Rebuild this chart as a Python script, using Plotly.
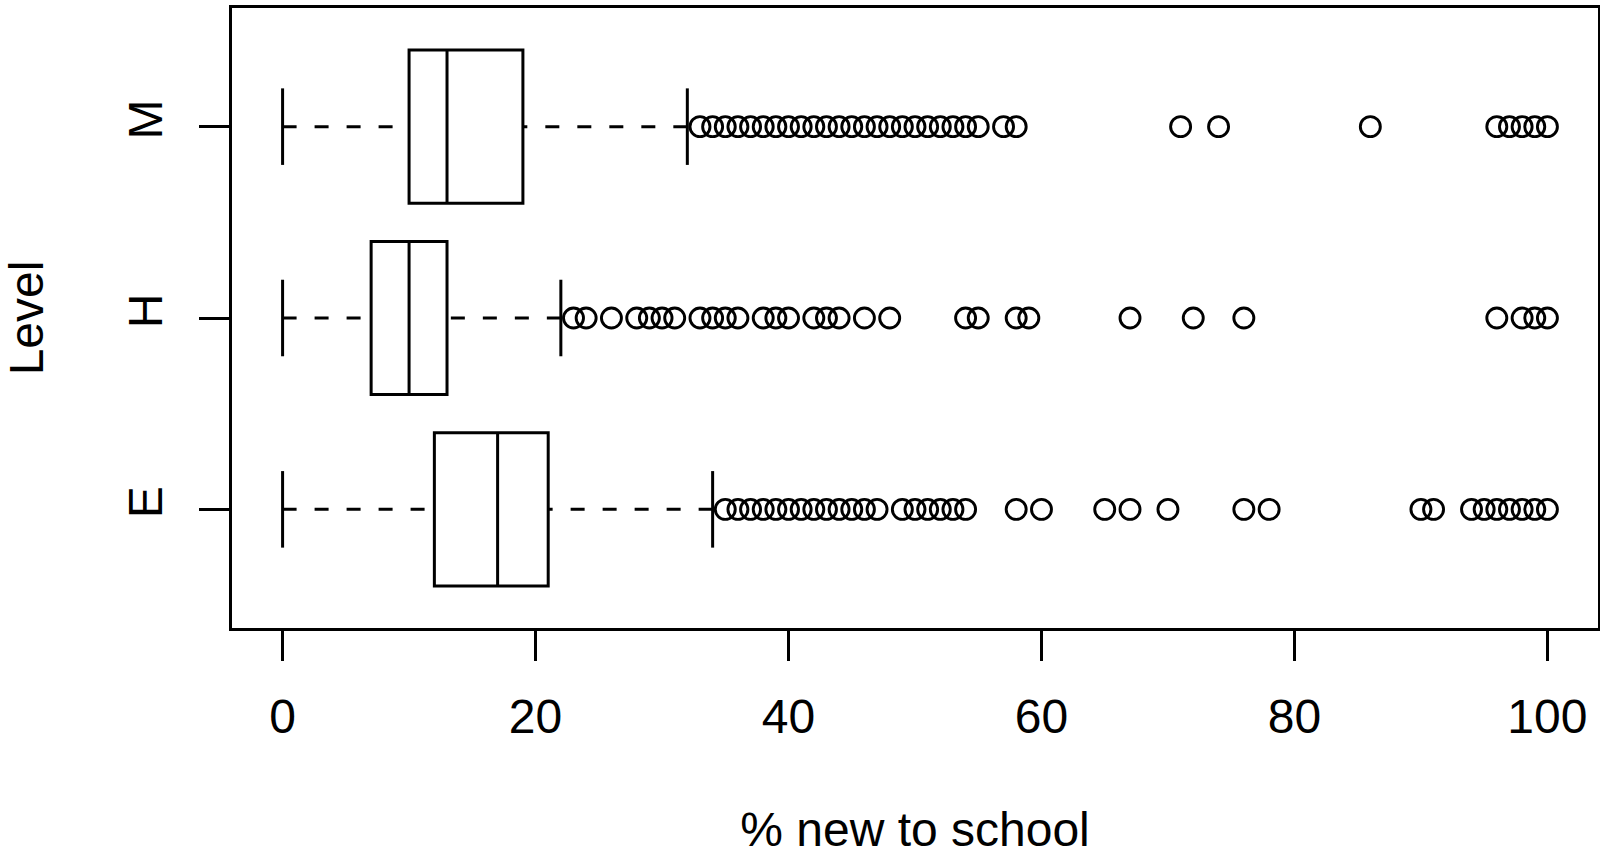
import plotly.graph_objects as go

# ---- data ----
levels = ["E", "H", "M"]
positions = [1, 2, 3]
q1 = [12, 7, 10]
median = [17, 10, 13]
q3 = [21, 13, 19]
lower_whisker = [0, 0, 0]
upper_whisker = [34, 22, 32]

outliers_E = [35, 36, 37, 38, 39, 40, 41, 42, 43, 44, 45, 46, 47,
              49, 50, 51, 52, 53, 54, 58, 60, 65, 67, 70, 76, 78,
              90, 91, 94, 95, 96, 97, 98, 99, 100]
outliers_H = [23, 24, 26, 28, 29, 30, 31, 33, 34, 35, 36, 38, 39, 40,
              42, 43, 44, 46, 48, 54, 55, 58, 59, 67, 72, 76,
              96, 98, 99, 100]
outliers_M = [33, 34, 35, 36, 37, 38, 39, 40, 41, 42, 43, 44, 45, 46,
              47, 48, 49, 50, 51, 52, 53, 54, 55, 57, 58, 71, 74, 86,
              96, 97, 98, 99, 100]
outliers = [outliers_E, outliers_H, outliers_M]

x_ticks = [0, 20, 40, 60, 80, 100]

# ---- style ----
FONT = "Liberation Sans, Arial, Helvetica, sans-serif"
LW = 3
BOX_W = 0.8
STAPLE_HALF = BOX_W / 4

fig = go.Figure()

for i, pos in enumerate(positions):
    # dashed whiskers (drawn from whisker end toward the box)
    fig.add_trace(go.Scatter(
        x=[lower_whisker[i], q1[i], None, upper_whisker[i], q3[i]],
        y=[pos, pos, None, pos, pos],
        mode="lines", line=dict(color="black", width=LW, dash="14px,18px"),
        hoverinfo="skip", showlegend=False))
    # staples
    fig.add_trace(go.Scatter(
        x=[lower_whisker[i], lower_whisker[i], None, upper_whisker[i], upper_whisker[i]],
        y=[pos - STAPLE_HALF, pos + STAPLE_HALF, None, pos - STAPLE_HALF, pos + STAPLE_HALF],
        mode="lines", line=dict(color="black", width=LW),
        hoverinfo="skip", showlegend=False))
    # box + median
    fig.add_trace(go.Box(
        y=[pos], q1=[q1[i]], median=[median[i]], q3=[q3[i]],
        lowerfence=[q1[i]], upperfence=[q3[i]],
        orientation="h", width=BOX_W, whiskerwidth=0,
        fillcolor="white", line=dict(color="black", width=LW),
        boxpoints=False, name=levels[i], showlegend=False))
    # outliers
    fig.add_trace(go.Scatter(
        x=outliers[i], y=[pos] * len(outliers[i]), mode="markers",
        marker=dict(symbol="circle-open", size=20, color="black",
                    line=dict(width=2.9, color="black")),
        showlegend=False))

fig.update_layout(
    width=1600, height=856,
    margin=dict(l=231.7, r=1.5, t=8, b=227.7, pad=0, autoexpand=False),
    paper_bgcolor="white", plot_bgcolor="white",
    font=dict(family=FONT, size=48, color="black"),
    xaxis=dict(
        range=[-4, 104], tickvals=x_ticks, ticktext=[str(v) for v in x_ticks],
        ticks="outside", ticklen=30, tickwidth=LW, tickcolor="black",
        showline=True, mirror=True, linecolor="black", linewidth=3,
        showgrid=False, zeroline=False, automargin=False,
        tickfont=dict(family=FONT, size=48, color="black"),
        ticklabelstandoff=14,
        title=dict(text="% new to school", font=dict(family=FONT, size=48),
                   standoff=75),
    ),
    yaxis=dict(
        range=[0.38, 3.62], tickvals=positions, ticktext=levels,
        tickangle=-90,
        ticks="outside", ticklen=30, tickwidth=LW, tickcolor="black",
        showline=True, mirror=True, linecolor="black", linewidth=3,
        showgrid=False, zeroline=False, automargin=False,
        tickfont=dict(family=FONT, size=48, color="black"),
        ticklabelstandoff=18,
        title=dict(text="Level", font=dict(family=FONT, size=48),
                   standoff=75),
    ),
)

fig.write_html("out.html",
               config={"displayModeBar": False},
               post_script="document.body.style.margin='0';")
